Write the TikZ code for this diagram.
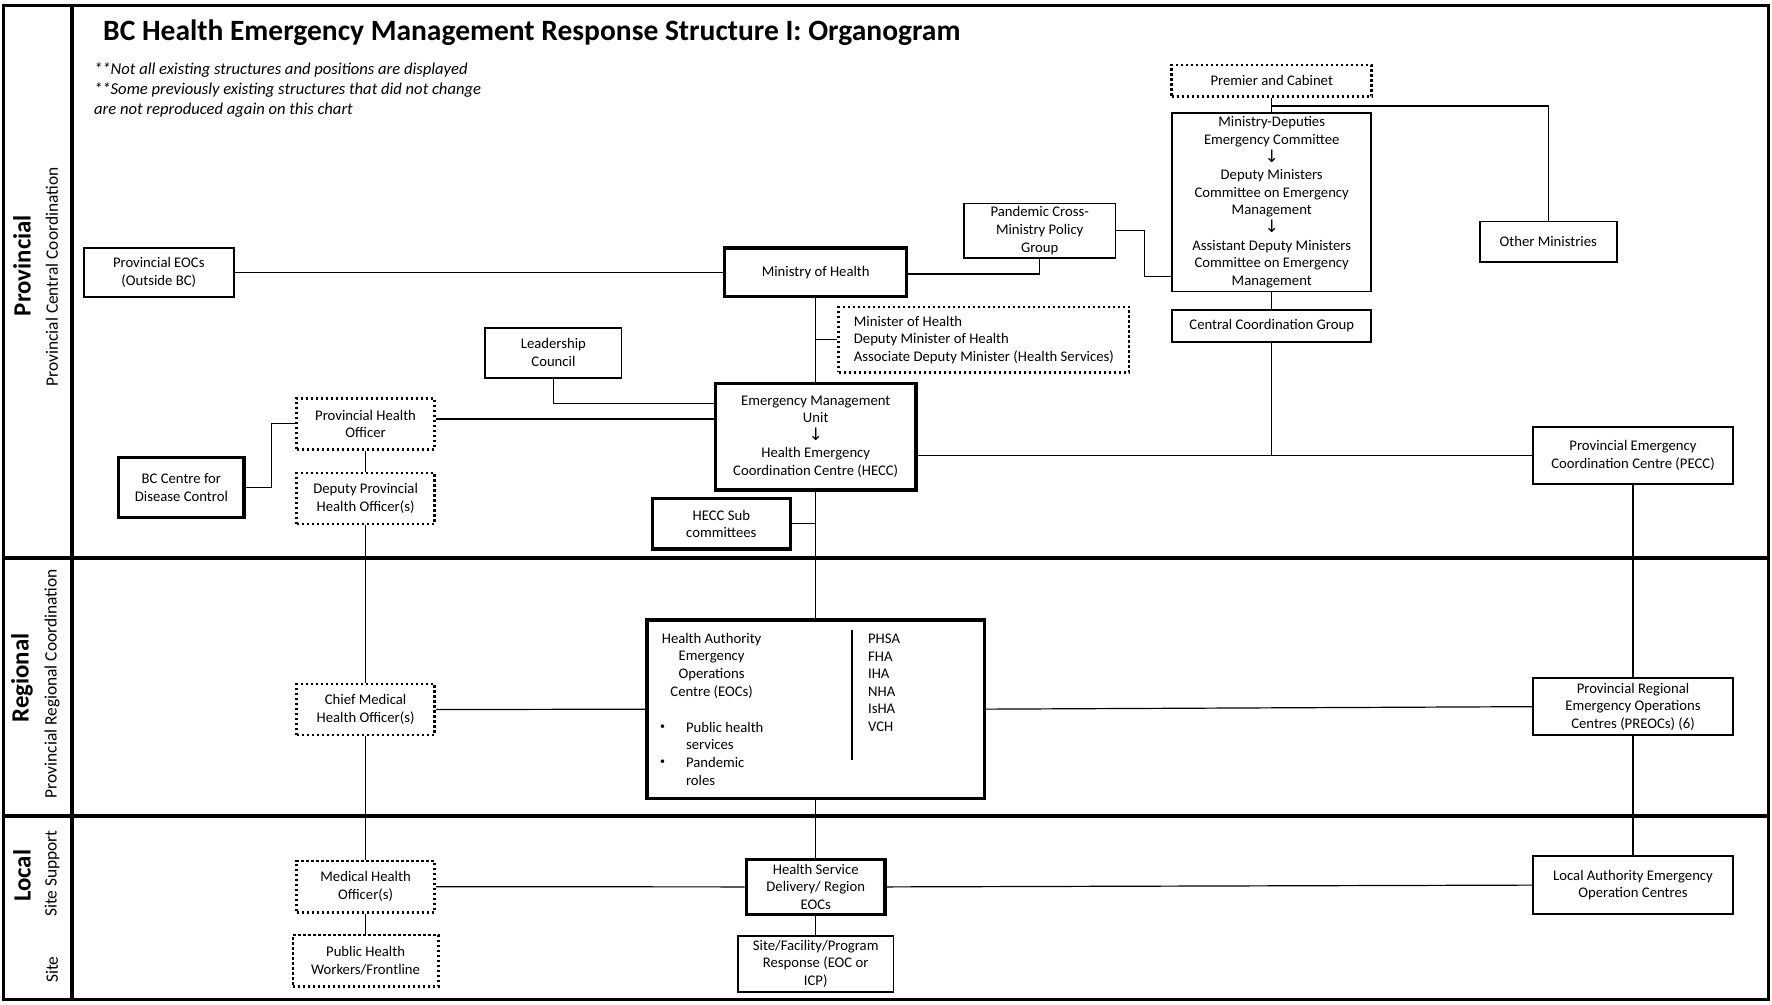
\documentclass[tikz,border=0pt]{standalone}
\usepackage{fontspec}
\setmainfont{Carlito}
\newfontfamily\arrowfont{DejaVu Sans}
\usetikzlibrary{calc}
\newcommand\bxf{\fontsize{7.35}{8.8}\selectfont}
\newcommand\dnarrow{{\arrowfont\fontsize{8.6}{8.8}\selectfont ↓}}
\begin{document}
\begin{tikzpicture}[x=0.565pt,y=-0.565pt,
  base/.style={draw, inner sep=0pt, align=center, font=\bxf, line width=0.9pt},
  thickbox/.style={base, line width=1.7pt},
  dotbox/.style={base, line width=1.3pt, dash pattern=on 1.2pt off 1.3pt},
  sz/.style 2 args={minimum width=#1*0.565pt, minimum height=#2*0.565pt},
  conn/.style={line width=0.6pt},
  sepline/.style={line width=1.8pt},
  txt/.style={font=\bxf, inner sep=0pt},
  lvl/.style={rotate=90, inner sep=0pt, font=\fontsize{12.4}{14}\selectfont\bfseries},
  sublvl/.style={rotate=90, inner sep=0pt, font=\fontsize{8.7}{10}\selectfont}]
\useasboundingbox (0,0) rectangle (1568,889);
\fill[white] (0,0) rectangle (1568,889);

% frame and bands
\draw[line width=1.5pt] (3,4.5) rectangle (1565,884.5);
\draw[sepline] (63.5,4.5) -- (63.5,884.5);
\draw[sepline] (3,494) -- (1565,494);
\draw[sepline] (3,722) -- (1565,722);

% title and notes
\node[anchor=base west, inner sep=0pt, font=\fontsize{14.75}{17}\selectfont\bfseries] (title) at (91,35.4) {BC Health Emergency Management Response Structure I: Organogram};
\node[anchor=west, inner sep=0pt, align=left, font=\fontsize{8.3}{10}\selectfont\itshape] (notes) at (83,79.3) {**Not all existing structures and positions are displayed\\**Some previously existing structures that did not change\\are not reproduced again on this chart};

% level labels
\node[lvl] (lprov) at (19.5,235) {Provincial};
\node[sublvl] (sprov) at (46,245) {Provincial Central Coordination};
\node[lvl] (lreg) at (19.5,600) {Regional};
\node[sublvl] (sreg) at (46,605) {Provincial Regional Coordination};
\node[lvl] (lloc) at (19.5,775) {Local};
\node[sublvl] (ssup) at (46,773) {Site Support};
\node[sublvl] (ssite) at (46,858) {Site};

% boxes
\node[base, sz={133}{43}] (peoc) at (140.5,241) {Provincial EOCs\\(Outside BC)};
\node[thickbox, sz={161}{43}] (moh) at (721.8,241) {Ministry of Health};
\node[base, sz={134}{48}] (pcm) at (920,204) {Pandemic Cross-\\Ministry Policy\\Group};
\node[dotbox, sz={177}{28}] (pc) at (1125.3,71.5) {Premier and Cabinet};
\node[base, sz={176}{158}] (md) at (1125.3,179) {Ministry-Deputies\\Emergency Committee\\\dnarrow\\Deputy Ministers\\Committee on Emergency\\Management\\\dnarrow\\Assistant Deputy Ministers\\Committee on Emergency\\Management};
\node[base, sz={121}{36}] (om) at (1370,214) {Other Ministries};
\node[base, sz={176}{28}] (ccg) at (1125.3,288.4) {Central Coordination Group};
\node[dotbox, sz={257}{58}, align=left] (mhb) at (870.6,300.6) {Minister of Health\\Deputy Minister of Health\\Associate Deputy Minister (Health Services)};
\node[base, sz={120.6}{44.2}] (lc) at (489.7,312.1) {Leadership\\Council};
\node[thickbox, sz={177.4}{94.4}] (hecc) at (721.8,386.4) {Emergency Management\\Unit\\\dnarrow\\Health Emergency\\Coordination Centre (HECC)};
\node[dotbox, sz={122}{45}] (pho) at (323.5,375) {Provincial Health\\Officer};
\node[thickbox, sz={111}{52.8}] (bccdc) at (160.5,431.4) {BC Centre for\\Disease Control};
\node[dotbox, sz={122}{45}] (dpho) at (323.5,441.2) {Deputy Provincial\\Health Officer(s)};
\node[thickbox, sz={122}{44.5}] (hsub) at (638.3,463.5) {HECC Sub\\committees};
\node[base, sz={177}{50.3}] (pecc) at (1445,403.2) {Provincial Emergency\\Coordination Centre (PECC)};
\node[thickbox, sz={298.5}{157.8}] (ha) at (721.8,627.5) {};
\node[dotbox, sz={122}{45}] (cmho) at (323.5,627.9) {Chief Medical\\Health Officer(s)};
\node[base, sz={177}{50.7}] (preoc) at (1445,625.3) {Provincial Regional\\Emergency Operations\\Centres (PREOCs) (6)};
\node[dotbox, sz={122}{45.4}] (mho) at (323.5,784.6) {Medical Health\\Officer(s)};
\node[thickbox, sz={122.6}{48.7}] (hsd) at (721.8,784.8) {Health Service\\Delivery/ Region\\EOCs};
\node[base, sz={177}{51.3}] (laeoc) at (1445,783.2) {Local Authority Emergency\\Operation Centres};
\node[dotbox, sz={128.8}{45.7}] (phw) at (323.5,850.3) {Public Health\\Workers/Frontline};
\node[base, sz={137.7}{49.3}] (site) at (721.8,852.9) {Site/Facility/Program\\Response (EOC or\\ICP)};

% contents of the health authority box
\node[txt, align=center] (hat) at (629.7,589) {Health Authority\\Emergency\\Operations\\Centre (EOCs)};
\node[inner sep=0pt, font=\fontsize{5}{6}\selectfont] (bul1) at (586.4,643.6) {•};
\node[inner sep=0pt, font=\fontsize{5}{6}\selectfont] (bul2) at (586.4,674.6) {•};
\node[txt, align=left, anchor=west] (hab) at (606.7,666.9) {Public health\\services\\Pandemic\\roles};
\node[txt, align=left, anchor=west] (har) at (767.8,604.2) {PHSA\\FHA\\IHA\\NHA\\IsHA\\VCH};
\draw[conn] (ha.north west) ++(182.9,10.4) -- ++(0,115);

% connectors
\draw[conn] (peoc.east) -- (moh.west);
\draw[conn] (moh.east |- 0,242.5) -| (pcm.south);
\draw[conn] (pcm.east) -- ++(24.8,0) |- (md.west |- 0,244.8);
\draw[conn] (pc.south) -- (md.north);
\draw[conn] (pc.south |- 0,93.8) -| (om.north);
\draw[conn] (md.south) -- (ccg.north);
\draw[conn] (ccg.south) -- (ccg.south |- pecc.west);
\draw[conn] (hecc.east |- pecc.west) -- (pecc.west);
\draw[conn] (moh.south) -- (hecc.north);
\draw[conn] (moh.south |- mhb.west) -- (mhb.west);
\draw[conn] (lc.south) |- (hecc.west |- 0,357);
\draw[conn] (pho.east |- 0,370.8) -- (hecc.west |- 0,370.8);
\draw[conn] (bccdc.east) -- ++(23,0) |- (pho.west);
\draw[conn] (pho.south) -- (dpho.north);
\draw[conn] (dpho.south) -- (cmho.north);
\draw[conn] (cmho.south) -- (mho.north);
\draw[conn] (mho.south) -- (phw.north);
\draw[conn] (hsub.east) -- (hsub.east -| hecc.south);
\draw[conn] (hecc.south) -- (ha.north);
\draw[conn] (cmho.east) -- (ha.west);
\draw[conn] (ha.east) -- (preoc.west);
\draw[conn] (ha.south) -- (hsd.north);
\draw[conn] (hsd.south) -- (site.north);
\draw[conn] (mho.east) -- (hsd.west);
\draw[conn] (hsd.east) -- (laeoc.west);
\draw[conn] (pecc.south) -- (preoc.north);
\draw[conn] (preoc.south) -- (laeoc.north);
\end{tikzpicture}
\end{document}
